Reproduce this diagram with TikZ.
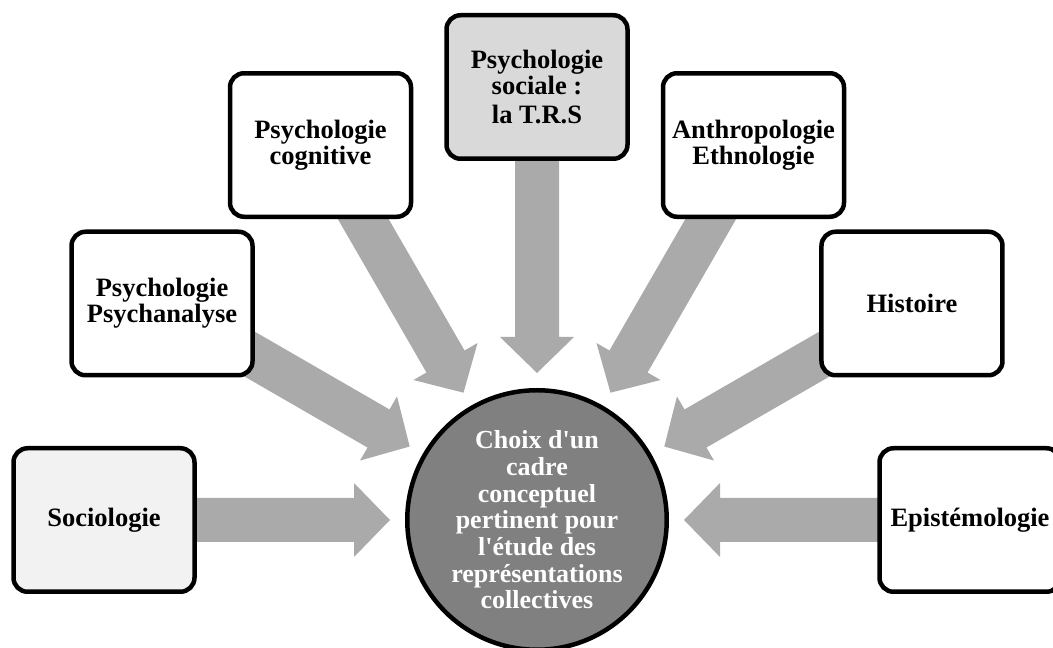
\documentclass[tikz,border=0pt]{standalone}
\usepackage{fontspec}
\setmainfont{Liberation Serif}[Ligatures=TeXOff]
\usetikzlibrary{calc,backgrounds}

\definecolor{flowgray}{HTML}{AAAAAA}
\definecolor{hubgray}{HTML}{808080}
\definecolor{palegray}{HTML}{F2F2F2}
\definecolor{midgray}{HTML}{D9D9D9}

\newcommand\boxfont{\fontsize{26.5}{26}\selectfont\bfseries}
\newcommand\hubfont{\fontsize{26}{26.7}\selectfont\bfseries}

% broad block arrow from a discipline box towards the hub
\newcommand\convarrow[1]{%
  \coordinate (hb) at ($(hub.center)!183pt!(#1.center)$);
  \fill[flowgray]
    ($(#1.center)!22pt!90:(hub.center)$) --
    ($(hb)!22pt!90:(hub.center)$) --
    ($(hb)!37pt!90:(hub.center)$) --
    ($(hub.center)!147pt!(#1.center)$) --
    ($(hb)!37pt!-90:(hub.center)$) --
    ($(hb)!22pt!-90:(hub.center)$) --
    ($(#1.center)!22pt!-90:(hub.center)$) -- cycle;}

\tikzset{
  topic/.style={draw=black, line width=4.5pt, rounded corners=14pt,
    fill=white, minimum width=181pt, minimum height=143.5pt,
    inner sep=2pt, align=center, font=\boxfont},
  hubnode/.style={circle, draw=black, line width=4.5pt, fill=hubgray,
    minimum size=259.5pt, inner sep=0pt, text=white, align=center,
    font=\hubfont}
}

\begin{document}
\begin{tikzpicture}[x=1pt,y=1pt]
\useasboundingbox (0,0) rectangle (1053,648);

\node[hubnode] (hub) at (537,128)
  {Choix d'un\\cadre\\conceptuel\\pertinent pour\\l'étude des\\représentations\\collectives};

\node[topic, fill=palegray] (socio) at ($(hub.center)+(180:433pt)$) {Sociologie};
\node[topic] (psyana) at ($(hub.center)+(150:433pt)$) {Psychologie\\Psychanalyse};
\node[topic] (cogn) at ($(hub.center)+(120:433pt)$) {Psychologie\\cognitive};
\node[topic, fill=midgray] (trs) at ($(hub.center)+(90:433pt)$) {Psychologie\\sociale :\\[3pt]la T.R.S};
\node[topic] (anthro) at ($(hub.center)+(60:433pt)$) {Anthropologie\\Ethnologie};
\node[topic] (hist) at ($(hub.center)+(30:433pt)$) {Histoire};
\node[topic] (episte) at ($(hub.center)+(0:433pt)$) {Epistémologie};

\begin{pgfonlayer}{background}
  \convarrow{socio}
  \convarrow{psyana}
  \convarrow{cogn}
  \convarrow{trs}
  \convarrow{anthro}
  \convarrow{hist}
  \convarrow{episte}
\end{pgfonlayer}
\end{tikzpicture}
\end{document}
